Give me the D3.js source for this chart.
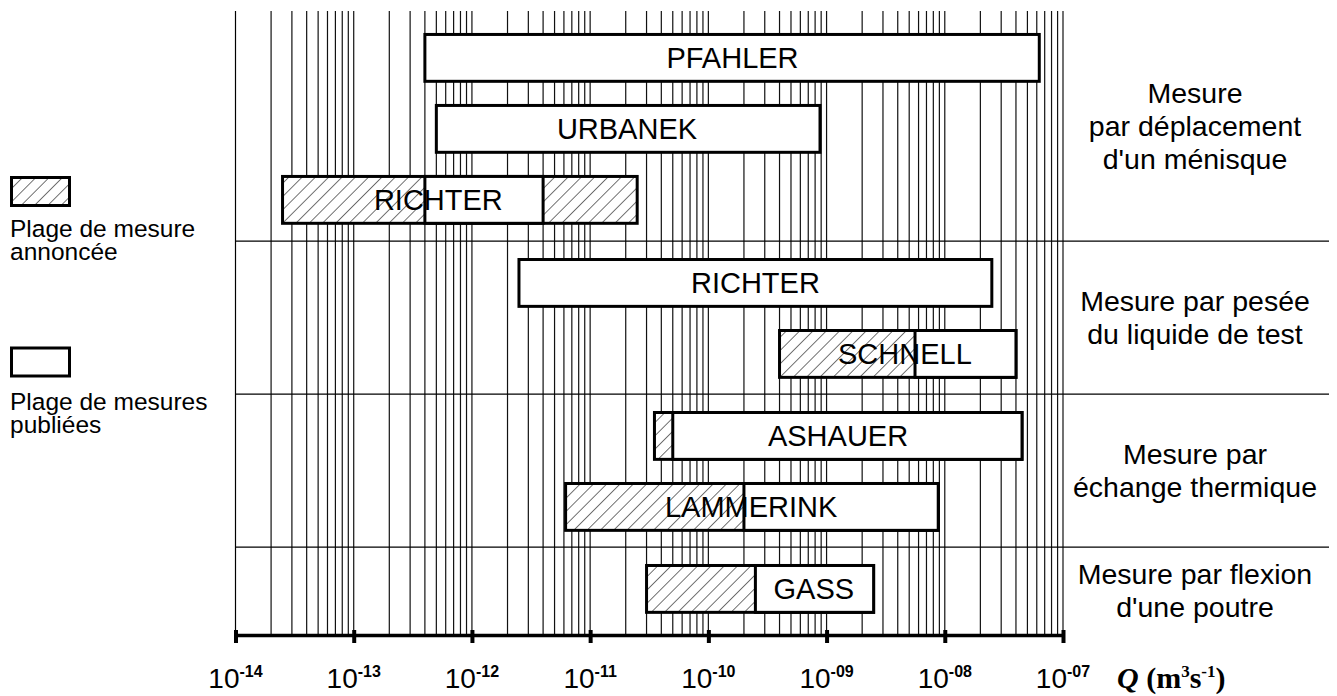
<!DOCTYPE html>
<html>
<head>
<meta charset="utf-8">
<script src="https://cdn.jsdelivr.net/npm/d3@7"></script>
<style>
  body { margin: 0; background: #fff; }
  text { font-family: "Liberation Sans", Arial, sans-serif; fill: #000; }
</style>
</head>
<body>
<div id="chart"></div>
<script>
const names  = ["PFAHLER", "URBANEK", "RICHTER", "RICHTER", "SCHNELL", "ASHAUER", "LAMMERINK", "GASS"];
const groupOf = [0, 0, 0, 1, 1, 2, 2, 3];
const annLo  = [null, null, 2.5e-14, null, 4e-10, 3.5e-11, 6.2e-12, 3e-11];   // plage annoncée
const annHi  = [null, null, 2.5e-11, null, 4e-8, 4.5e-8, 8.8e-9, 2.5e-9];
const pubLo  = [4e-13, 5e-13, 4e-13, 2.5e-12, 5.6e-9, 5e-11, 2e-10, 2.5e-10];  // plage publiée
const pubHi  = [6.3e-8, 8.8e-10, 4e-12, 2.5e-8, 4e-8, 4.5e-8, 8.8e-9, 2.5e-9];
const labelAt = [1.6e-10, 2.05e-11, 5.2e-13, 2.5e-10, 4.6e-9, 1.25e-9, 2.3e-10, 7.8e-10];

const groupLabels = [
  ["Mesure", "par déplacement", "d'un ménisque"],
  ["Mesure par pesée", "du liquide de test"],
  ["Mesure par", "échange thermique"],
  ["Mesure par flexion", "d'une poutre"]
];
const decades = [-14, -13, -12, -11, -10, -9, -8, -7];

const W = 1337, H = 696;
const svg = d3.select("#chart").append("svg")
    .attr("width", W)
    .attr("height", H);

// hatch pattern for the announced range
const defs = svg.append("defs");
defs.append("pattern")
    .attr("id", "hatch")
    .attr("patternUnits", "userSpaceOnUse")
    .attr("width", 9.4).attr("height", 9.4)
    .attr("patternTransform", "rotate(45)")
  .append("line")
    .attr("x1", 0).attr("y1", 0).attr("x2", 0).attr("y2", 9.4)
    .attr("stroke", "#000").attr("stroke-width", 1.1);

// x: log scale
const x = d3.scaleLog().domain([1e-14, 1e-7]).range([235.5, 1063]);

// y: rows stacked by group, with a little padding per group
const groupPad = [0.17, 0.155, 0.155, 0.225];
const nGroups = groupLabels.length;
const rowsIn = d3.range(nGroups).map(g => groupOf.filter(v => v === g).length);
const groupStart = [];
let acc = 0;
for (let g = 0; g < nGroups; g++) { groupStart.push(acc); acc += rowsIn[g] + groupPad[g]; }
const y = d3.scaleLinear().domain([0, acc]).range([16, 634]);
const rowCenter = names.map((n, i) => {
  const g = groupOf[i];
  const k = groupOf.slice(0, i).filter(v => v === g).length;
  return y(groupStart[g] + 0.59 + k);
});
const barH = y(0.66) - y(0);

const plotTop = 11, plotBottom = 634;

// vertical grid (decades + minor)
const gridVals = [];
decades.forEach(d => {
  if (d === -7) { gridVals.push(1e-7); return; }
  for (let m = 1; m < 10; m++) gridVals.push(m * Math.pow(10, d));
});
svg.append("g").selectAll("line")
  .data(gridVals)
  .enter().append("line")
    .attr("x1", d => x(d)).attr("x2", d => x(d))
    .attr("y1", plotTop).attr("y2", plotBottom)
    .attr("stroke", "#111")
    .attr("stroke-width", 1.2);

// group separators
const sepY = d3.range(1, nGroups).map(g => y(groupStart[g]) );
svg.append("g").selectAll("line")
  .data(sepY)
  .enter().append("line")
    .attr("x1", 235).attr("x2", 1329)
    .attr("y1", d => d).attr("y2", d => d)
    .attr("stroke", "#000").attr("stroke-width", 1.2);

// bars
const bars = svg.append("g");
names.forEach((n, i) => {
  const yc = rowCenter[i];
  if (annLo[i] !== null) {
    bars.append("rect")
      .attr("x", x(annLo[i])).attr("y", yc - barH / 2)
      .attr("width", x(annHi[i]) - x(annLo[i])).attr("height", barH)
      .attr("fill", "#fff").attr("stroke", "none");
    bars.append("rect")
      .attr("x", x(annLo[i])).attr("y", yc - barH / 2)
      .attr("width", x(annHi[i]) - x(annLo[i])).attr("height", barH)
      .attr("fill", "url(#hatch)")
      .attr("stroke", "#000").attr("stroke-width", 3);
    // white fill under the published part
    bars.append("rect")
      .attr("x", x(pubLo[i])).attr("y", yc - barH / 2)
      .attr("width", x(pubHi[i]) - x(pubLo[i])).attr("height", barH)
      .attr("fill", "#fff");
  }
  bars.append("rect")
    .attr("x", x(pubLo[i])).attr("y", yc - barH / 2)
    .attr("width", x(pubHi[i]) - x(pubLo[i])).attr("height", barH)
    .attr("fill", annLo[i] !== null ? "none" : "#fff")
    .attr("stroke", "#000").attr("stroke-width", 3);
  bars.append("text")
    .attr("x", x(labelAt[i]))
    .attr("y", yc + 10)
    .attr("text-anchor", "middle")
    .style("font-size", "29px")
    .text(n);
});

// left border line
svg.append("line")
  .attr("x1", 235.5).attr("x2", 235.5)
  .attr("y1", plotTop).attr("y2", plotBottom)
  .attr("stroke", "#000");

// x axis
const axis = svg.append("g")
  .attr("transform", "translate(0,635)")
  .call(d3.axisBottom(x).tickValues(decades.map(d => Math.pow(10, d)))
        .tickSize(8).tickSizeOuter(0).tickFormat(""));
axis.select(".domain").attr("stroke-width", 3.5).attr("stroke", "#000");
axis.selectAll(".tick line").attr("y1", -5).attr("y2", 8)
  .attr("stroke-width", 4).attr("stroke", "#000");

// tick labels 10^n
decades.forEach(d => {
  const t = svg.append("text")
    .attr("x", x(Math.pow(10, d)))
    .attr("y", 688)
    .attr("text-anchor", "middle");
  t.append("tspan").style("font-size", "28px").text("10");
  t.append("tspan").attr("dy", -11).style("font-size", "16px").style("font-weight", "bold")
    .text("-" + String(Math.abs(d)).padStart(2, "0"));
});

// axis unit
const q = svg.append("text")
  .attr("x", 1117).attr("y", 688)
  .style("font-family", "'Liberation Serif', 'Times New Roman', serif")
  .style("font-weight", "bold")
  .style("font-size", "30px");
q.append("tspan").style("font-style", "italic").text("Q");
q.append("tspan").text(" (m");
q.append("tspan").attr("dy", -11).style("font-size", "17px").text("3");
q.append("tspan").attr("dy", 11).text("s");
q.append("tspan").attr("dy", -11).style("font-size", "17px").text("-1");
q.append("tspan").attr("dy", 11).text(")");

// group labels on the right
const groupBounds = d3.range(nGroups).map(g => [g === 0 ? plotTop : y(groupStart[g]),
                                                  g === nGroups - 1 ? plotBottom : y(groupStart[g + 1])]);
groupLabels.forEach((lines, g) => {
  const mid = (groupBounds[g][0] + groupBounds[g][1]) / 2;
  const first = mid - (lines.length - 1) / 2 * 33 + 10;
  const t = svg.append("text")
    .attr("text-anchor", "middle")
    .style("font-size", "28.5px");
  lines.forEach((l, k) => {
    t.append("tspan").attr("x", 1195).attr("y", first + k * 33).text(l);
  });
});

// legend
const legend = svg.append("g");
legend.append("rect").attr("x", 11.5).attr("y", 177.5).attr("width", 58).attr("height", 28)
  .attr("fill", "url(#hatch)").attr("stroke", "#000").attr("stroke-width", 3);
legend.append("rect").attr("x", 11.5).attr("y", 348).attr("width", 58).attr("height", 28)
  .attr("fill", "#fff").attr("stroke", "#000").attr("stroke-width", 3);
const legendText = [["Plage de mesure", "annoncée"], ["Plage de mesures", "publiées"]];
const legendY = [237, 410];
legendText.forEach((lines, k) => {
  const t = legend.append("text").style("font-size", "24.5px");
  lines.forEach((l, j) => {
    t.append("tspan").attr("x", 10).attr("y", legendY[k] + j * 22.5).text(l);
  });
});
</script>
</body>
</html>
